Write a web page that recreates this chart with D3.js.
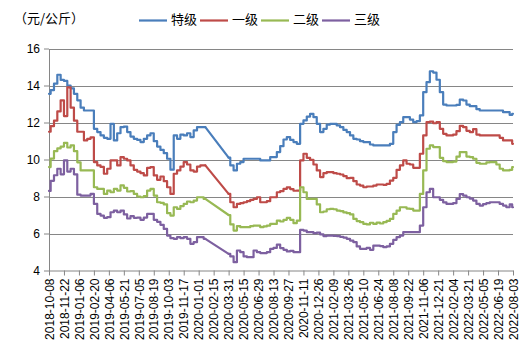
<!DOCTYPE html>
<html><head><meta charset="utf-8">
<script src="https://cdn.jsdelivr.net/npm/d3@7"></script>
<style>body{margin:0;background:#fff}svg{display:block}</style>
</head><body><svg id="c" width="530" height="354"></svg>
<script>
const dates = [
"2018-10-08","2018-10-18","2018-10-28","2018-11-07","2018-11-17","2018-11-27","2018-12-07","2018-12-17","2018-12-27","2019-01-06",
"2019-01-16","2019-01-26","2019-02-05","2019-02-15","2019-02-25","2019-03-07","2019-03-17","2019-03-27","2019-04-06","2019-04-16",
"2019-04-26","2019-05-06","2019-05-16","2019-05-26","2019-06-05","2019-06-15","2019-06-25","2019-07-05","2019-07-15","2019-07-25",
"2019-08-04","2019-08-14","2019-08-24","2019-09-03","2019-09-13","2019-09-23","2019-10-03","2019-10-13","2019-10-23","2019-11-02",
"2019-11-12","2019-11-22","2019-12-02","2019-12-12","2019-12-22","2020-01-01","2020-01-11","2020-01-21",
"2020-03-31","2020-04-10","2020-04-20","2020-04-30","2020-05-10","2020-05-20","2020-05-30","2020-06-09","2020-06-19","2020-06-29",
"2020-07-09","2020-07-19","2020-07-29","2020-08-08","2020-08-18","2020-08-28","2020-09-07","2020-09-17","2020-09-27","2020-10-07",
"2020-10-17","2020-10-27","2020-11-06","2020-11-16","2020-11-26","2020-12-06","2020-12-16","2020-12-26","2021-01-05","2021-01-15",
"2021-01-25","2021-02-04","2021-02-14","2021-02-24","2021-03-06","2021-03-16","2021-03-26","2021-04-05","2021-04-15","2021-04-25",
"2021-05-05","2021-05-15","2021-05-25","2021-06-04","2021-06-14","2021-06-24","2021-07-04","2021-07-14","2021-07-24","2021-08-03",
"2021-08-13","2021-08-23","2021-09-02","2021-09-12","2021-09-22","2021-10-02","2021-10-12","2021-10-22","2021-11-01","2021-11-11",
"2021-11-21","2021-12-01","2021-12-11","2021-12-21","2021-12-31","2022-01-10","2022-01-20","2022-01-30","2022-02-09","2022-02-19",
"2022-03-01","2022-03-11","2022-03-21","2022-03-31","2022-04-10","2022-04-20","2022-04-30","2022-05-10","2022-05-20","2022-05-30",
"2022-06-09","2022-06-19","2022-06-29","2022-07-09","2022-07-19","2022-07-29","2022-08-03"];

const teji = [
13.55,13.75,14.1,14.58,14.3,14.25,14.0,13.85,13.55,13.2,
12.8,12.65,12.65,12.65,11.66,11.48,11.3,11.17,11.12,11.93,
11.03,11.42,11.75,11.78,11.48,11.24,11.12,11.06,10.94,11.12,
11.3,11.42,10.99,10.7,10.52,10.34,10.04,9.45,11.3,11.12,
11.35,11.3,11.42,11.21,11.57,11.75,11.75,11.75,
10.1,9.68,9.41,9.77,9.86,10.04,10.04,10.04,10.04,10.04,
9.95,9.95,9.95,10.13,10.13,10.4,10.72,11.08,11.21,11.06,
10.94,10.85,11.93,12.11,12.32,12.47,12.29,11.93,11.48,11.66,
11.89,11.93,11.93,11.84,11.75,11.6,11.48,11.3,11.12,11.08,
10.99,10.94,10.94,10.81,10.76,10.76,10.76,10.76,10.76,10.85,
11.48,11.87,12.02,12.29,12.29,12.16,12.02,12.07,12.38,13.64,
14.18,14.77,14.7,14.31,13.64,12.97,12.92,12.92,12.92,12.95,
13.24,13.19,12.97,12.88,12.88,12.72,12.65,12.65,12.65,12.65,
12.65,12.65,12.65,12.56,12.56,12.41,12.47];

const yiji = [
11.5,11.8,12.1,12.6,13.2,12.35,13.9,12.8,12.1,11.5,
11.5,11.03,11.12,11.2,9.86,9.68,9.6,9.23,9.5,9.95,
9.95,9.68,10.13,10.04,9.95,9.68,9.44,9.35,9.26,9.14,
9.55,9.59,9.14,8.9,9.08,8.83,8.5,8.14,9.23,9.41,
9.62,9.86,9.73,9.41,9.35,9.62,9.68,9.68,
8.14,7.69,7.42,7.6,7.64,7.69,7.75,7.82,7.87,7.96,
7.69,7.69,7.75,7.96,7.96,8.23,8.29,8.41,8.49,8.4,
8.31,8.32,9.95,10.31,10.09,9.98,9.73,9.41,9.05,9.26,
9.32,9.32,9.26,9.23,9.19,9.1,8.99,9.01,8.83,8.65,
8.59,8.5,8.54,8.54,8.59,8.65,8.65,8.63,8.68,8.86,
9.01,9.44,9.68,9.95,9.77,9.73,9.55,9.55,10.31,11.3,
12.02,12.05,11.96,12.02,11.66,11.39,11.3,11.3,11.35,11.53,
11.82,11.75,11.55,11.48,11.64,11.35,11.3,11.3,11.3,11.3,
11.3,11.3,11.17,11.03,11.03,11.03,10.85];

const erji = [
9.59,10.05,10.45,10.6,10.7,10.9,10.65,10.76,10.45,9.85,
9.41,9.41,9.41,9.41,8.5,8.41,8.41,8.14,8.32,8.23,
8.41,8.32,8.6,8.47,8.27,8.29,8.14,8.0,7.96,8.02,
8.32,8.41,8.05,7.69,7.66,7.57,7.1,6.97,7.42,7.33,
7.48,7.6,7.73,7.69,7.78,7.96,7.96,7.87,
7.0,6.49,6.16,6.4,6.34,6.34,6.34,6.4,6.43,6.43,
6.34,6.38,6.43,6.52,6.52,6.7,6.65,6.74,6.85,6.74,
6.56,6.7,8.5,8.23,7.87,7.87,7.87,7.57,7.15,7.19,
7.31,7.33,7.31,7.24,7.21,7.14,7.1,7.03,6.79,6.67,
6.61,6.52,6.49,6.58,6.52,6.59,6.54,6.61,6.68,6.79,
7.06,7.24,7.42,7.42,7.35,7.33,7.24,7.24,8.14,9.41,
10.58,10.76,10.67,10.67,10.09,9.91,9.86,9.86,9.89,10.16,
10.4,10.4,10.16,10.13,10.04,9.82,9.77,9.77,9.84,9.86,
9.86,9.73,9.5,9.41,9.41,9.44,9.59];

const sanji = [
8.3,8.85,9.15,9.5,9.2,9.95,9.35,9.5,9.2,8.1,
8.05,8.05,8.05,8.14,7.6,7.06,6.97,6.85,6.88,7.15,
7.24,7.15,7.24,7.03,6.81,6.94,6.85,6.86,6.74,6.86,
7.06,7.06,6.74,6.63,6.47,6.25,5.89,5.75,5.71,5.8,
5.75,5.8,5.71,5.44,5.53,5.8,5.8,5.71,
4.9,4.76,4.45,5.08,4.99,4.76,4.72,4.72,5.08,4.99,
4.94,4.94,4.99,5.17,5.22,5.4,5.21,5.12,5.03,5.06,
4.99,4.99,6.2,6.16,6.07,6.07,6.02,6.05,5.95,5.86,
5.89,5.89,5.87,5.86,5.82,5.78,5.71,5.62,5.53,5.3,
5.17,5.17,5.22,5.12,5.35,5.35,5.32,5.26,5.3,5.44,
5.66,5.8,5.89,6.07,6.07,6.07,6.07,6.07,6.43,7.42,
8.23,8.41,7.96,7.96,7.82,7.68,7.6,7.6,7.64,7.87,
8.13,8.05,7.96,7.89,7.78,7.6,7.51,7.59,7.64,7.69,
7.69,7.69,7.6,7.51,7.42,7.57,7.42];

const seriesNames = ["特级","一级","二级","三级"];
const tickLabels = ["2018-10-08","2018-11-22","2019-01-06","2019-02-20","2019-04-06","2019-05-21","2019-07-05","2019-08-19",
"2019-10-03","2019-11-17","2020-01-01","2020-02-15","2020-03-31","2020-05-15","2020-06-29","2020-08-13","2020-09-27",
"2020-11-11","2020-12-26","2021-02-09","2021-03-26","2021-05-10","2021-06-24","2021-08-08","2021-09-22","2021-11-06",
"2021-12-21","2022-02-04","2022-03-21","2022-05-05","2022-06-19","2022-08-03"];
const yTicks = [4,6,8,10,12,14,16];
const unitLabel = "（元/公斤）";

const colors = ["#4A7EBB","#BE4B48","#98B954","#7D60A0"];
const gridColor = "#868686";
const parse = d3.utcParse("%Y-%m-%d");
const fmt = d3.utcFormat("%Y-%m-%d");
const svg = d3.select("#c");
const L = 49, R = 513, T = 48.5, B = 270.5;

const x = d3.scaleUtc().domain([parse(tickLabels[0]), parse(tickLabels[tickLabels.length-1])]).range([L, R]);
const y = d3.scaleLinear().domain([4,16]).range([B, T]);

// grid
svg.append("g").selectAll("line").data(yTicks.filter(t => t > 4)).join("line")
  .attr("x1", L).attr("x2", R).attr("y1", d => Math.round(y(d)) + 0.5).attr("y2", d => Math.round(y(d)) + 0.5)
  .attr("stroke", gridColor).attr("stroke-width", 1);

// y axis
const ya = svg.append("g").attr("transform", `translate(${L},0)`)
  .call(d3.axisLeft(y).tickValues(yTicks).tickSize(5).tickSizeOuter(0).tickPadding(4).tickFormat(d3.format("d")));
ya.select(".domain").attr("stroke", gridColor);
ya.selectAll(".tick line").attr("stroke", gridColor);
ya.selectAll("text").attr("font-family", "'Liberation Sans', Arial, sans-serif").attr("font-size", 12).attr("fill", "#000");

// x axis
const xa = svg.append("g").attr("transform", `translate(0,${B})`)
  .call(d3.axisBottom(x).tickValues(tickLabels.map(parse)).tickSize(5).tickSizeOuter(0).tickFormat(fmt));
xa.select(".domain").attr("stroke", gridColor);
xa.selectAll(".tick line").attr("stroke", gridColor);
xa.selectAll("text")
  .attr("font-family", "'Liberation Sans', Arial, sans-serif").attr("font-size", 12).attr("fill", "#000")
  .attr("transform", "rotate(-90)").attr("x", -8).attr("y", 0).attr("dy", "0.35em")
  .style("text-anchor", "end");

// lines
const allSeries = [teji, yiji, erji, sanji];
const stepLine = d3.line().x(p => x(p.d)).y(p => y(p.v)).curve(d3.curveStep);
const straight = d3.line().x(p => x(p.d)).y(p => y(p.v));
const gap = 15 * 864e5;
allSeries.forEach((vals, si) => {
  const pts = dates.map((d, i) => ({ d: parse(d), v: vals[i] }));
  const segs = [[pts[0]]];
  for (let i = 1; i < pts.length; i++) {
    if (pts[i].d - pts[i-1].d > gap) segs.push([]);
    segs[segs.length-1].push(pts[i]);
  }
  const g = svg.append("g").attr("fill", "none").attr("stroke", colors[si])
    .attr("stroke-width", 2.2).attr("stroke-linejoin", "round").attr("stroke-linecap", "round");
  segs.forEach((s, j) => {
    g.append("path").attr("d", stepLine(s));
    if (j > 0) {
      const prev = segs[j-1];
      g.append("path").attr("d", straight([prev[prev.length-1], s[0]]));
    }
  });
});

// unit label
svg.append("text").attr("x", 14).attr("y", 19).attr("dominant-baseline", "middle")
  .attr("font-family", "'Noto Sans CJK SC', sans-serif").attr("font-size", 13).attr("fill", "#000")
  .text(unitLabel);

// legend
const lg = svg.append("g").selectAll("g").data(seriesNames).join("g")
  .attr("transform", (d, i) => `translate(${139 + i * 61},20.5)`);
lg.append("line").attr("x1", 0).attr("x2", 28).attr("y1", 0).attr("y2", 0)
  .attr("stroke", (d, i) => colors[i]).attr("stroke-width", 2.2);
lg.append("text").attr("x", 32).attr("y", 0).attr("dominant-baseline", "middle")
  .attr("font-family", "'Noto Sans CJK SC', sans-serif").attr("font-size", 13).attr("fill", "#000")
  .text(d => d);
</script></body></html>
